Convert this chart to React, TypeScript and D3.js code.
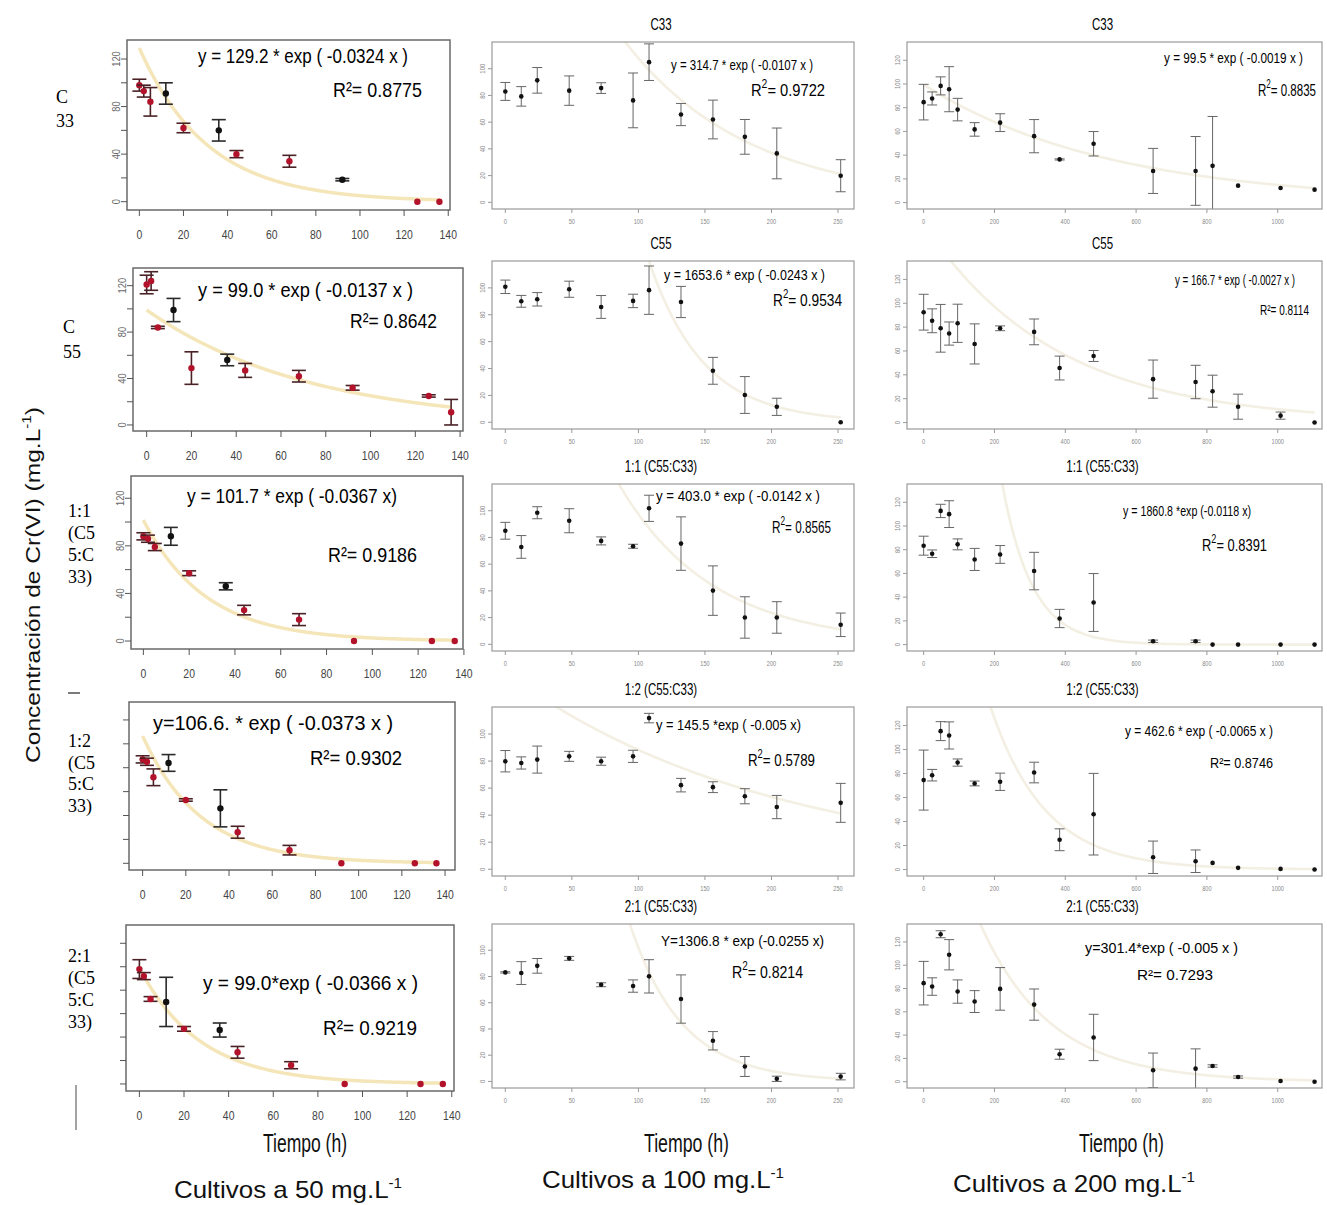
import React from 'react';
import * as d3 from 'd3';

// sampling times (h) per culture concentration
const T50 = [0, 2, 5, 12, 20, 36, 44, 68, 92, 126, 136];
const T100 = [0, 12, 24, 48, 72, 96, 108, 132, 156, 180, 204, 252];
const T200 = [0, 24, 48, 72, 96, 144, 216, 312, 384, 480, 648, 768, 816, 888, 1008, 1104];

// Cultivos a 50 mg/L
const c50_C33 = [98, 93, 84, 91, 62, 60, 40, 34, 18.5, 0, 0];
const c50_C33_sd = [5, 5, 12, 9, 4, 9, 3, 5, 1, 0, 0];
const c50_C55 = [121, 124, 84, 99, 49, 56, 47, 42, 32, 25, 11];
const c50_C55_sd = [8, 8, 1, 10, 14, 5, 6, 5, 2, 1, 11];
const c50_11 = [88, 86, 79, 88, 57, 46, 26, 18, 0, 0, 0];
const c50_11_sd = [3, 3, 3, 7.5, 2, 3, 4, 5, 0, 0, 0];
const c50_12 = [87, 85, 72, 84, 53, 46, 26, 11, 0, 0, 0];
const c50_12_sd = [3, 3, 7, 7, 1, 15.5, 5, 4, 0, 0, 0];
const c50_21 = [98, 92, 72.5, 70, 47, 46, 27, 16, 0, 0, 0];
const c50_21_sd = [8, 3, 2, 21, 2, 6, 5, 3, 0, 0, 0];

// Cultivos a 100 mg/L
const c100_C33 = [83, 79.3, 91.3, 83.6, 85.5, 76.3, 104.9, 65.7, 62, 49, 36.6, 19.9];
const c100_C33_sd = [6.7, 7.3, 9.6, 11, 4, 20.5, 13.7, 8.3, 14.5, 13, 19, 12];
const c100_C55 = [100.8, 90, 91.5, 99, 85.8, 90.3, 98.3, 89.5, 38.3, 20.3, 11.5, 0];
const c100_C55_sd = [5, 4.4, 5, 6, 8.5, 5, 18, 11.6, 10, 13.7, 6.4, 0];
const c100_11 = [85, 72.9, 98.5, 92.5, 77.4, 73.4, 101.8, 75.4, 40.2, 20.1, 20.1, 14.6];
const c100_11_sd = [6.3, 8.5, 4.5, 9, 3, 1.5, 9.8, 20, 18.5, 15.5, 11.8, 8.8];
const c100_12 = [79.9, 78.6, 81.1, 83.5, 79.9, 83.5, 111.8, 62.2, 60.7, 54, 46, 49.1];
const c100_12_sd = [7.9, 4.5, 10, 3.7, 3, 4.5, 3.5, 5, 4, 5.6, 8.6, 14.4];
const c100_21 = [83.1, 82.6, 88.1, 93.8, 73.7, 72.7, 80.1, 62.8, 31, 11.4, 2, 3.7];
const c100_21_sd = [0.5, 8.7, 5.6, 1.5, 1.5, 4.7, 12.7, 18.4, 7, 7.6, 2, 2.5];

// Cultivos a 200 mg/L
const c200_C33 = [84.7, 87.8, 98.4, 95.6, 78.4, 61.7, 67.4, 56, 36.4, 49.6, 26.7, 26.7, 31, 14.3, 12.3, 10.9];
const c200_C33_sd = [15, 5.5, 7.6, 19, 9.5, 5.7, 7.5, 14, 0.5, 10.3, 19, 29, 41.6, 0, 0, 0];
const c200_C55 = [92.5, 85.3, 79, 74.6, 83.2, 65.9, 79, 76, 45.7, 55.8, 36.4, 34, 26.3, 13.3, 5.8, 0];
const c200_C55_sd = [15, 10, 20, 9.7, 16, 16.8, 2, 10.8, 10, 4.6, 16, 14, 13.4, 10.5, 3, 0];
const c200_11 = [83.4, 76.6, 112.7, 110, 84.5, 71.8, 76, 62, 22, 35.5, 2.8, 2.8, 0, 0, 0, 0];
const c200_11_sd = [8, 3.2, 5.6, 11.3, 4.6, 9.3, 7.5, 15.8, 7.7, 24.4, 1, 1, 0, 0, 0, 0];
const c200_12 = [74.5, 78.6, 115.3, 111.7, 89.1, 71.7, 73.1, 80.8, 24.8, 46.1, 10.2, 6.9, 5.5, 1.4, 0.5, 0];
const c200_12_sd = [25, 4.8, 7.9, 11.3, 3, 2, 7.2, 8.6, 9.1, 34, 13.5, 9.4, 0, 0, 0, 0];
const c200_21 = [84.6, 81.7, 126.6, 109, 77.4, 68.8, 79.7, 66.2, 23.6, 38, 9.8, 11.2, 13.5, 4, 0.6, 0];
const c200_21_sd = [18.7, 7.5, 3, 13, 10, 9.4, 18.3, 13.4, 4.3, 19.9, 14.8, 17, 1, 1, 0, 0];

// times drawn with black markers in the 50 mg/L column (the rest are red)
const DARK50 = [[12, 36, 92], [12, 36], [12, 36], [12, 36], [12, 36]];

// fitted exponential models y = a * exp(-b x)
const FIT50 = [[129.2, 0.0324], [99.0, 0.0137], [101.7, 0.0367], [106.6, 0.0373], [99.0, 0.0366]];
const FIT100 = [[314.7, 0.0107], [1653.6, 0.0243], [403.0, 0.0142], [145.5, 0.005], [1306.8, 0.0255]];
const FIT200 = [[99.5, 0.0019], [166.7, 0.0027], [1860.8, 0.0118], [462.6, 0.0065], [301.4, 0.005]];

const EQ50 = ['y = 129.2 * exp ( -0.0324 x )', 'y = 99.0 * exp ( -0.0137 x )', 'y = 101.7 * exp ( -0.0367 x)', 'y=106.6. * exp ( -0.0373 x )', 'y = 99.0*exp ( -0.0366 x )'];
const EQ100 = ['y = 314.7 * exp ( -0.0107 x )', 'y = 1653.6 * exp ( -0.0243 x )', 'y = 403.0 * exp ( -0.0142 x )', 'y = 145.5 *exp ( -0.005 x)', 'Y=1306.8 * exp (-0.0255 x)'];
const EQ200 = ['y = 99.5 * exp ( -0.0019 x )', 'y = 166.7 * exp ( -0.0027 x )', 'y = 1860.8 *exp (-0.0118 x)', 'y = 462.6 * exp ( -0.0065 x )', 'y=301.4*exp ( -0.005 x )'];
const R2_50 = ['0.8775', '0.8642', '0.9186', '0.9302', '0.9219'];
const R2_100 = ['0.9722', '0.9534', '0.8565', '0.5789', '0.8214'];
const R2_200 = ['0.8835', '0.8114', '0.8391', '0.8746', '0.7293'];

const TITLES = ['C33', 'C55', '1:1 (C55:C33)', '1:2 (C55:C33)', '2:1 (C55:C33)'];
const ROW_LABELS = [['C', '33'], ['C', '55'], ['1:1', '(C5', '5:C', '33)'], ['1:2', '(C5', '5:C', '33)'], ['2:1', '(C5', '5:C', '33)']];
const X_TICKS50 = [0, 20, 40, 60, 80, 100, 120, 140];
const X_TICKS100 = [0, 50, 100, 150, 200, 250];
const X_TICKS200 = [0, 200, 400, 600, 800, 1000];
const Y_TICKS50 = [0, 20, 40, 60, 80, 100, 120];
const Y_TICKS100 = [0, 20, 40, 60, 80, 100];
const Y_TICKS200 = [0, 20, 40, 60, 80, 100, 120];

// ---- layout (pixels) ----
const BOX50 = [[127, 450, 40, 210], [133, 463, 268, 431], [131, 463, 476, 649], [129, 455, 702, 870], [126, 454, 925, 1091]];
const XDOM50 = [[-5.6, 140.8], [-6.1, 141.3], [-5.4, 139.6], [-6.3, 144.6], [-6, 141]];
const YDOM50 = [[-7, 136], [-5.2, 135.2], [-6.7, 138.7], [-5.6, 135], [-6, 135.6]];
const ROWS = [[42, 209], [261, 429], [484, 651], [707, 876], [924, 1088]];
const EQPOS50 = [[198, 408, 63, 333, 422, 97], [198, 413, 297, 350, 437, 328], [187, 397, 503, 328, 417, 562], [153, 393, 730, 310, 402, 765], [203, 418, 990, 323, 417, 1035]];
const EQPOS100 = [[671, 813, 70, 751, 825, 96], [664, 825, 280, 773, 842, 306], [656, 820, 501, 772, 831, 533], [656, 801, 730, 748, 815, 766], [661, 824, 946, 732, 803, 978]];
const EQPOS200 = [[1164, 1303, 63, 1258, 1316, 96], [1175, 1295, 285, 1260, 1309, 315], [1123, 1251, 516, 1202, 1267, 551], [1125, 1273, 736, 1210, 1273, 768], [1085, 1238, 953, 1137, 1213, 980]];
const R2BIG100 = [true, true, true, true, true];
const R2BIG200 = [true, false, true, false, false];
const ROWLABEL_POS = [[56, 103, 24], [63, 333, 25], [68, 517, 22], [68, 747, 21.7], [68, 962, 22]];

const SANS = "'Liberation Sans', Arial, sans-serif";
const NARROW = "'Liberation Sans Narrow', 'Arial Narrow', 'Liberation Sans', Arial, sans-serif";
const SERIF = "'Liberation Serif', 'Times New Roman', serif";

type Spec = {
  box: number[]; xDomain: number[]; yDomain: number[];
  xTicks: number[]; yTicks: number[]; yLabels: number[];
  big: boolean; times: number[]; values: number[]; errs: number[];
  dark: number[]; fit: number[]; title?: string;
  eq: string; r2: string; pos: number[]; r2big: boolean;
};

// squeezed text (condensed look)
const Sq = ({ x, y, sx, size, anchor = 'middle', rot = 0, fill = '#000', family = SANS, children }: any) => (
  <text transform={`translate(${x},${y}) rotate(${rot}) scale(${sx},1)`} fontSize={size} fontFamily={family}
    textAnchor={anchor} fill={fill}>{children}</text>
);

function Panel({ p, id }: { p: Spec; id: string }) {
  const [bx0, bx1, by0, by1] = p.box;
  const x = d3.scaleLinear().domain(p.xDomain).range([bx0, bx1]);
  const y = d3.scaleLinear().domain(p.yDomain).range([by1, by0]);
  const tMax = p.times[p.times.length - 1];
  const pts = d3.range(0, tMax + 0.001, tMax / 300).map(t => [t, Math.min(p.fit[0] * Math.exp(-p.fit[1] * t), 400)] as [number, number]);
  const line = d3.line<[number, number]>().x(d => x(d[0])).y(d => y(d[1]));
  const cap = p.big ? 7 : 5;
  const [ex0, ex1, eyb, rx0, rx1, ryb] = p.pos;
  return (
    <g>
      <defs>
        <clipPath id={id}><rect x={bx0} y={by0} width={bx1 - bx0} height={by1 - by0} /></clipPath>
      </defs>
      <path d={line(pts) || ''} fill="none" stroke={p.big ? '#f5e6b9' : '#f4efe3'} strokeWidth={p.big ? 3.5 : 2.6} clipPath={`url(#${id})`} />
      <g clipPath={`url(#${id})`}>
        {p.times.map((t, i) => {
          const v = p.values[i];
          const e = p.errs[i];
          const dark = !p.big || p.dark.includes(t);
          const col = p.big ? (dark ? '#2a2a2a' : '#4a2226') : '#666';
          const cx = x(t);
          return (
            <g key={i}>
              {e > 0 && (
                <g stroke={col} strokeWidth={p.big ? 1.6 : 1} fill="none">
                  <line x1={cx} x2={cx} y1={y(v - e)} y2={y(v + e)} />
                  <line x1={cx - cap} x2={cx + cap} y1={y(v - e)} y2={y(v - e)} />
                  <line x1={cx - cap} x2={cx + cap} y1={y(v + e)} y2={y(v + e)} />
                </g>
              )}
              <circle cx={cx} cy={y(v)} r={p.big ? 3.2 : 2.3} fill={p.big ? (dark ? '#111' : '#b3122b') : '#111'} />
            </g>
          );
        })}
      </g>
      <rect x={bx0} y={by0} width={bx1 - bx0} height={by1 - by0} fill="none" stroke={p.big ? '#6a6a6a' : '#9a9a9a'} strokeWidth={p.big ? 1.5 : 1.2} />
      {/* axes */}
      {p.xTicks.map(t => (
        <g key={'x' + t}>
          <line x1={x(t)} x2={x(t)} y1={by1} y2={by1 + (p.big ? 6 : 4)} stroke={p.big ? '#555' : '#999'} />
          <Sq x={x(t)} y={by1 + (p.big ? 29 : 15)} sx={0.8} size={p.big ? 13 : 7} fill={p.big ? '#444' : '#888'}>{t}</Sq>
        </g>
      ))}
      {p.yTicks.map(v => (
        <g key={'y' + v}>
          <line x1={bx0} x2={bx0 - (p.big ? 6 : 4)} y1={y(v)} y2={y(v)} stroke={p.big ? '#555' : '#999'} />
          {p.yLabels.includes(v) && (
            <Sq x={bx0 - 7} y={y(v)} rot={-90} sx={0.85} size={p.big ? 11 : 7} fill={p.big ? '#666' : '#888'}>{v}</Sq>
          )}
        </g>
      ))}
      {p.title && (
        <Sq x={(bx0 + bx1) / 2 - 12} y={by0 - 12} sx={0.72} size={16}>{p.title}</Sq>
      )}
      <text x={ex0} y={eyb} fontSize={p.big ? 20 : 15} fontFamily={p.big ? SANS : NARROW}
        textLength={ex1 - ex0} lengthAdjust="spacingAndGlyphs">{p.eq}</text>
      {p.r2big ? (
        <text x={rx0} y={ryb} fontSize={17} fontFamily={NARROW} textLength={rx1 - rx0} lengthAdjust="spacingAndGlyphs">
          R<tspan dy={-8} fontSize={12}>2</tspan><tspan dy={8}>= {p.r2}</tspan>
        </text>
      ) : (
        <text x={rx0} y={ryb} fontSize={p.big ? 21 : 15} fontFamily={p.big ? SANS : NARROW}
          textLength={rx1 - rx0} lengthAdjust="spacingAndGlyphs">{'R\u00b2= ' + p.r2}</text>
      )}
    </g>
  );
}

const V50 = [c50_C33, c50_C55, c50_11, c50_12, c50_21];
const E50 = [c50_C33_sd, c50_C55_sd, c50_11_sd, c50_12_sd, c50_21_sd];
const V100 = [c100_C33, c100_C55, c100_11, c100_12, c100_21];
const E100 = [c100_C33_sd, c100_C55_sd, c100_11_sd, c100_12_sd, c100_21_sd];
const V200 = [c200_C33, c200_C55, c200_11, c200_12, c200_21];
const E200 = [c200_C33_sd, c200_C55_sd, c200_11_sd, c200_12_sd, c200_21_sd];

export default function App() {
  const specs: Spec[] = [];
  for (let r = 0; r < 5; r++) {
    specs.push({
      box: BOX50[r], xDomain: XDOM50[r], yDomain: YDOM50[r], xTicks: X_TICKS50, yTicks: Y_TICKS50,
      yLabels: r < 3 ? [0, 40, 80, 120] : [], big: true, times: T50, values: V50[r], errs: E50[r],
      dark: DARK50[r], fit: FIT50[r], eq: EQ50[r], r2: R2_50[r], pos: EQPOS50[r], r2big: false,
    });
    specs.push({
      box: [492, 854, ROWS[r][0], ROWS[r][1]], xDomain: [-10, 262], yDomain: [-5, 120], xTicks: X_TICKS100,
      yTicks: Y_TICKS100, yLabels: Y_TICKS100, big: false, times: T100, values: V100[r], errs: E100[r],
      dark: [], fit: FIT100[r], title: TITLES[r], eq: EQ100[r], r2: R2_100[r], pos: EQPOS100[r], r2big: R2BIG100[r],
    });
    specs.push({
      box: [907, 1322, ROWS[r][0], ROWS[r][1]], xDomain: [-47, 1125], yDomain: [-5.4, 135.4], xTicks: X_TICKS200,
      yTicks: Y_TICKS200, yLabels: Y_TICKS200, big: false, times: T200, values: V200[r], errs: E200[r],
      dark: [], fit: FIT200[r], title: TITLES[r], eq: EQ200[r], r2: R2_200[r], pos: EQPOS200[r], r2big: R2BIG200[r],
    });
  }
  return (
    <svg width={1327} height={1205} style={{ position: 'absolute', left: 0, top: 0, background: '#fff' }}>
      <rect width={1327} height={1205} fill="#fff" />
      {specs.map((s, i) => <Panel key={i} p={s} id={`clip${i}`} />)}
      {ROW_LABELS.map((lines, r) => (
        <text key={r} fontFamily={SERIF} fontSize={18} fill="#000">
          {lines.map((l, j) => (
            <tspan key={j} x={ROWLABEL_POS[r][0]} y={ROWLABEL_POS[r][1] + j * ROWLABEL_POS[r][2]}>{l}</tspan>
          ))}
        </text>
      ))}
      <line x1={68} x2={80} y1={693} y2={693} stroke="#222" strokeWidth={1.2} />
      <line x1={76} x2={76} y1={1085} y2={1130} stroke="#666" strokeWidth={1.2} />
      <text transform="translate(40,585) rotate(-90)" textAnchor="middle" fontFamily={SANS} fontSize={21} fill="#111"
        textLength={356} lengthAdjust="spacingAndGlyphs">
        Concentración de Cr(VI) (mg.L<tspan dy={-9} fontSize={13}>-1</tspan><tspan dy={9}>)</tspan>
      </text>
      {[[263, 347], [644, 729], [1079, 1164]].map(([a, b], i) => (
        <text key={'t' + i} x={a} y={1152} fontFamily={NARROW} fontSize={26} fill="#111"
          textLength={b - a} lengthAdjust="spacingAndGlyphs">Tiempo (h)</text>
      ))}
      {[['50', 174, 402, 1198], ['100', 542, 784, 1188], ['200', 953, 1195, 1192]].map(([c, a, b, yb]: any, i) => (
        <text key={'c' + i} x={a} y={yb} fontFamily={NARROW} fontSize={24} fill="#111"
          textLength={b - a} lengthAdjust="spacingAndGlyphs">
          {`Cultivos a ${c} mg.L`}<tspan dy={-10} fontSize={14}>-1</tspan>
        </text>
      ))}
    </svg>
  );
}
